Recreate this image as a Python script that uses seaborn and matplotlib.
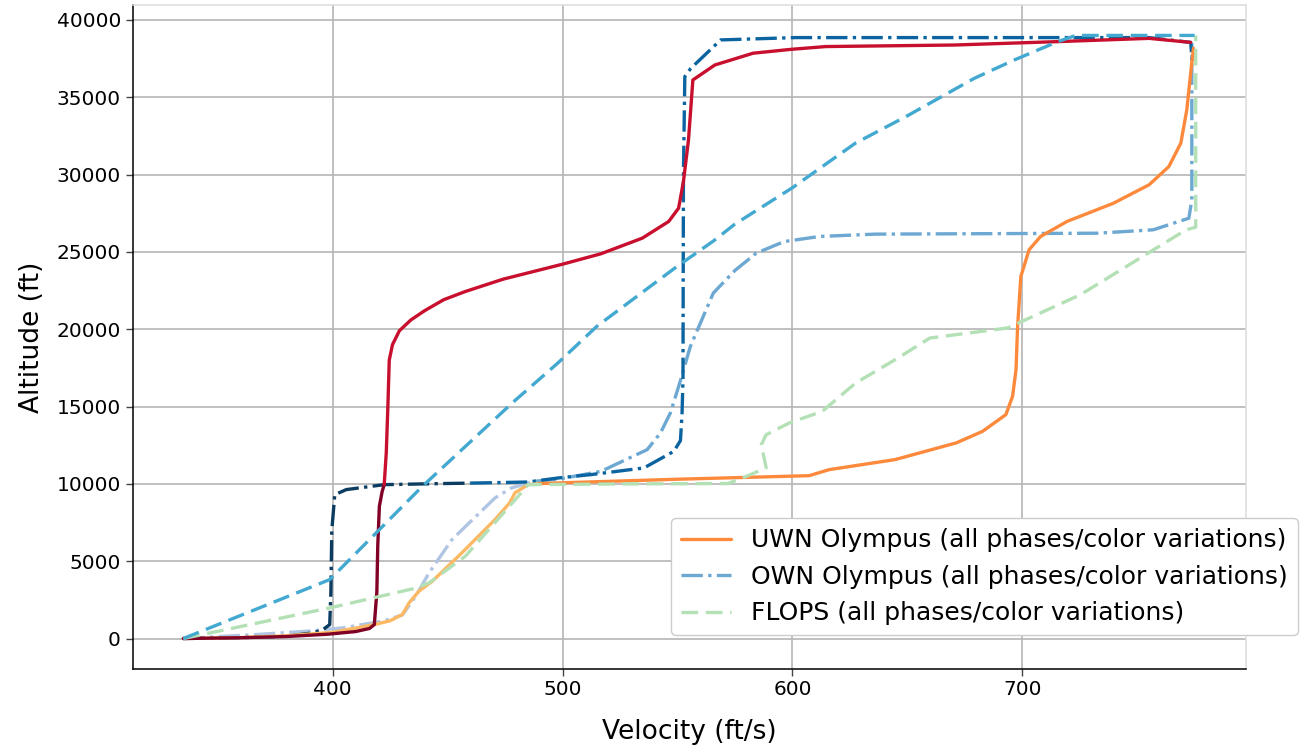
import numpy as np
import pandas as pd
import matplotlib
matplotlib.use('Agg')
import matplotlib.pyplot as plt
from matplotlib.lines import Line2D
import seaborn as sns

# UWN Olympus, trajectory A (dark red -> red)
uwn_a1_v = [335, 360, 380, 398, 410, 416, 418.1, 419.2, 419.6, 420.3, 421.5, 422.4]
uwn_a1_h = [0, 50, 130, 280, 450, 650, 900, 3000, 6000, 8550, 9500, 9950]
uwn_a2_v = [422.4, 423.3, 424, 424.6, 426, 429, 434, 440, 448.3, 457.7, 474.2, 500.1, 516.7,
            534.7, 546.2, 550.5, 552.6, 554.8, 556.7, 566.3, 582.9, 599.4, 614.5, 670.6,
            715.5, 755.2, 773.3]
uwn_a2_h = [9950, 12000, 15000, 18000, 19000, 19900, 20600, 21200, 21910, 22440, 23240, 24210,
            24880, 25890, 26970, 27830, 29550, 32250, 36120, 37090, 37850, 38100, 38280, 38380,
            38600, 38810, 38550]

# UWN Olympus, trajectory B (light orange -> orange)
uwn_b1_v = [335, 360, 380, 400, 418.1, 425, 430.3, 433.2, 437.5, 443.3, 456.2, 470.6, 477,
            479.3, 485, 490]
uwn_b1_h = [0, 60, 180, 400, 900, 1150, 1550, 2300, 3060, 3700, 5540, 7690, 8770, 9420, 9950,
            10020]
uwn_b2_v = [490, 498, 550, 607.3, 616, 627.5, 644.7, 671.3, 682.8, 692.9, 695.8, 697.3, 698,
            699.4, 703, 708, 719.5, 739.7, 755.2, 763.8, 769, 771.6, 773.3, 774.5]
uwn_b2_h = [10020, 10060, 10300, 10530, 10920, 11180, 11570, 12650, 13400, 14480, 15660, 17380,
            20180, 23410, 25140, 26000, 26970, 28150, 29340, 30520, 32030, 34180, 36560, 38170]

# OWN Olympus, trajectory A (navy -> blue)
own_a1_v = [335, 358.4, 380, 391.5, 395.8, 398.7, 399.2, 399.6, 400.9, 405.9, 422.4, 440, 460]
own_a1_h = [0, 50, 150, 370, 580, 900, 3000, 7000, 9300, 9630, 9950, 10000, 10050]
own_a2_v = [460, 485, 498, 512.4, 535.4, 548.4, 551.3, 552, 552.4, 552.6, 553.2, 555.8, 568.8,
            601.6, 755.2, 773.3, 774]
own_a2_h = [10050, 10120, 10380, 10600, 11030, 12100, 12800, 14580, 16740, 30000, 36340, 36870,
            38710, 38860, 38860, 38550, 37200]

# OWN Olympus, trajectory B (lavender -> light blue)
own_b1_v = [335, 367, 388.6, 404.4, 421.7, 430.3, 436.1, 441.9, 451.9, 470.6, 477.8, 488]
own_b1_h = [0, 260, 470, 690, 1120, 1520, 2730, 4240, 6400, 9090, 9740, 10170]
own_b2_v = [488, 498, 516.7, 536.8, 542.6, 546.9, 551.2, 555.6, 565.6, 575, 584.3, 596.4, 611.9,
            636, 732.7, 757, 772.5, 773.8, 773.8]
own_b2_h = [10170, 10300, 10810, 12210, 13290, 14580, 16630, 18890, 22340, 23800, 24920, 25670,
            26000, 26150, 26210, 26430, 27180, 28370, 38490]

# FLOPS, trajectory A (sky blue) and B (light green)
flops_a_v = [335, 398.7, 418.9, 439, 478.6, 498, 515, 549.8, 565.6, 575, 599.8, 627.4, 650,
             679.2, 696.5, 715.5, 723.3, 775]
flops_a_h = [0, 3810, 6830, 9840, 15300, 17820, 20200, 24060, 25700, 26800, 29130, 32030, 33800,
             36230, 37410, 38600, 39000, 39000]
flops_b_v = [335, 398.7, 436.8, 441.9, 457.7, 480.7, 485, 530, 572, 580, 588.6, 586.5, 588.6,
             598.7, 613, 627.5, 644.7, 659.8, 693.6, 725.3, 771.3, 775.5, 775.5]
flops_b_h = [0, 1980, 3280, 3600, 5320, 9200, 9950, 10000, 10020, 10490, 11030, 12540, 13180,
             13940, 14690, 16520, 18030, 19430, 20080, 22230, 26430, 26600, 39000]

legend_labels = ['UWN Olympus (all phases/color variations)',
                 'OWN Olympus (all phases/color variations)',
                 'FLOPS (all phases/color variations)']

sns.set_style('whitegrid', {'grid.color': '#b5b5b5', 'axes.edgecolor': '#dddddd',
                            'text.color': 'black', 'axes.labelcolor': 'black',
                            'xtick.color': 'black', 'ytick.color': 'black'})
plt.rcParams['font.family'] = ['DejaVu Sans']

fig, ax = plt.subplots(figsize=(13.01, 7.53), dpi=100)
fig.subplots_adjust(left=0.102, right=0.958, bottom=0.112, top=0.993)

LW = 2.4
DASH = (5, 2.3)


def draw(v, h, color, style):
    df = pd.DataFrame({'v': v, 'h': h})
    kw = {}
    if style == 'dashed':
        kw['dashes'] = DASH
    else:
        kw['linestyle'] = style
    sns.lineplot(data=df, x='v', y='h', sort=False, estimator=None, color=color,
                 lw=LW, ax=ax, **kw)


# OWN dash-dot
draw(own_b1_v, own_b1_h, '#b0c5e3', '-.')
draw(own_b2_v, own_b2_h, '#6ca8d2', '-.')
draw(own_a1_v, own_a1_h, '#0c3c60', '-.')
draw(own_a2_v, own_a2_h, '#0b64a0', '-.')
# UWN solid
draw(uwn_b1_v, uwn_b1_h, '#fdb863', '-')
draw(uwn_b2_v, uwn_b2_h, '#fd8a3c', '-')
draw(uwn_a1_v, uwn_a1_h, '#800026', '-')
draw(uwn_a2_v, uwn_a2_h, '#c8102e', '-')
# FLOPS dashed
draw(flops_b_v, flops_b_h, '#b3e0b5', 'dashed')
draw(flops_a_v, flops_a_h, '#43a9d0', 'dashed')

ax.set_xticks([400, 500, 600, 700])
ax.set_yticks(np.arange(0, 40001, 5000))
ax.grid(True, color='#b5b5b5', lw=1.2)
for s in ['left', 'bottom']:
    ax.spines[s].set_color('black')
    ax.spines[s].set_linewidth(1.1)
for s in ['top', 'right']:
    ax.spines[s].set_color('#dddddd')
    ax.spines[s].set_linewidth(1.1)
ax.tick_params(axis='both', labelsize=14.5, length=5, width=1, color='#444444',
               labelcolor='black', left=True, bottom=True)

ax.set_xlabel('Velocity (ft/s)', fontsize=19, labelpad=14, color='black')
ax.set_ylabel('Altitude (ft)', fontsize=19, labelpad=8, color='black')

handles = [Line2D([0], [0], color='#fd8a3c', lw=LW, linestyle='-'),
           Line2D([0], [0], color='#6ca8d2', lw=LW, linestyle='-.'),
           Line2D([0], [0], color='#b3e0b5', lw=LW, dashes=DASH)]
leg = ax.legend(handles, legend_labels, loc='lower right', bbox_to_anchor=(1.046, 0.05),
                borderaxespad=0, fontsize=18, frameon=True, framealpha=1)
leg.get_frame().set_edgecolor('#cccccc')
for t in leg.get_texts():
    t.set_color('black')

fig.savefig('out.png', dpi=100)
